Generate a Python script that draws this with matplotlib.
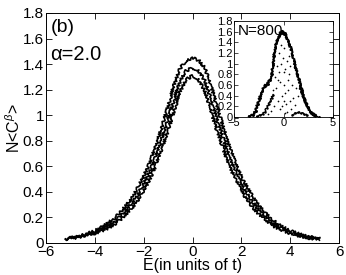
import numpy as np
import matplotlib
matplotlib.use("Agg")
import matplotlib.pyplot as plt
from matplotlib.ticker import FuncFormatter, MultipleLocator

plt.rcParams['font.family'] = ['Liberation Sans', 'DejaVu Sans']
plt.rcParams['mathtext.fontset'] = 'custom'
plt.rcParams['mathtext.rm'] = 'Liberation Sans'
plt.rcParams['mathtext.it'] = 'Liberation Sans:italic'

# ---- main curves (positive half; curves are symmetric in E) ----
E_half = [0.0, 0.25, 0.5, 0.75, 1.0, 1.25, 1.5, 1.75, 2.0, 2.25, 2.5, 2.75,
          3.0, 3.25, 3.5, 3.75, 4.0, 4.25, 4.5, 4.75, 5.0, 5.2]
top_half = [1.45, 1.43, 1.37, 1.24, 1.07, 0.91, 0.76, 0.63, 0.52, 0.43, 0.35, 0.285,
            0.23, 0.185, 0.15, 0.12, 0.095, 0.078, 0.062, 0.05, 0.04, 0.032]
mid_half = [1.37, 1.35, 1.27, 1.13, 0.97, 0.82, 0.68, 0.56, 0.46, 0.38, 0.31, 0.25,
            0.20, 0.16, 0.13, 0.105, 0.085, 0.07, 0.055, 0.045, 0.036, 0.03]
bot_half = [1.31, 1.28, 1.19, 1.04, 0.88, 0.74, 0.61, 0.50, 0.41, 0.335, 0.27, 0.22,
            0.175, 0.14, 0.113, 0.092, 0.075, 0.062, 0.05, 0.04, 0.033, 0.03]

# ---- inset (N=800) ----
env_E = [-3.5, -3.1, -2.8, -2.6, -2.4, -2.2, -1.9, -1.6, -1.35, -1.2, -1.05, -0.95, -0.83,
         -0.65, -0.45, -0.3, -0.15, 0.0, 0.15, 0.3, 0.45, 0.6, 0.75, 0.9, 1.05, 1.2,
         1.4, 1.55, 1.7, 1.85, 2.05, 2.25, 2.45, 2.75, 3.05, 3.55]
env_v = [0.01, 0.04, 0.12, 0.25, 0.36, 0.48, 0.58, 0.62, 0.70, 0.80, 0.98, 1.15, 1.32,
         1.45, 1.52, 1.58, 1.62, 1.55, 1.57, 1.50, 1.42, 1.36, 1.28, 1.17, 1.05, 0.93,
         0.80, 0.72, 0.60, 0.50, 0.36, 0.27, 0.19, 0.10, 0.04, 0.0]
inL_E = [-2.7, -2.4, -2.1, -1.9, -1.7, -1.5, -1.35, -1.2, -1.05]
inL_v = [0.01, 0.03, 0.06, 0.10, 0.17, 0.24, 0.30, 0.36, 0.42]
inR_E = [1.65, 1.8, 1.95, 2.1, 2.3, 2.5, 2.7, 2.9, 3.2]
inR_v = [0.55, 0.47, 0.40, 0.32, 0.24, 0.17, 0.10, 0.05, 0.02]
inB_E = [0.9, 1.2, 1.5, 1.8, 2.1, 2.4]
inB_v = [0.04, 0.07, 0.09, 0.08, 0.05, 0.03]
dots_E = [-0.5, -0.3, 0.0, 0.2, -0.6, 0.5, -0.2, 0.3, -1.0, 0.8, -0.4, 0.6, -0.8, 1.0,
          0.1, -0.1, 0.4, -0.7, 0.7, -1.3, 1.2, -0.9, 0.2, -0.35, 0.55, 0.05, -0.55,
          0.35, -1.6, 1.5, -0.15, 0.9, -1.1, 0.15, -0.45, 0.65, 1.3, -0.25, 0.45, 0.0]
dots_v = [1.20, 1.00, 1.30, 0.90, 0.70, 0.50, 0.40, 0.25, 0.20, 0.15, 0.15, 0.80, 0.55,
          0.35, 0.60, 1.10, 1.05, 0.95, 0.30, 0.12, 0.22, 0.75, 0.45, 0.65, 1.15, 0.85,
          0.30, 0.10, 0.05, 0.40, 0.20, 0.60, 0.50, 0.08, 0.85, 0.95, 0.55, 1.35, 0.70, 0.30]

fig = plt.figure(figsize=(3.46, 2.75), dpi=100)
ax = fig.add_axes([46/346, 32/275, 293/346, 230/275])

E_full = np.concatenate([-np.array(E_half[::-1]), np.array(E_half[1:])])
for half in (top_half, mid_half, bot_half):
    v_full = np.concatenate([np.array(half[::-1]), np.array(half[1:])])
    ln, = ax.plot(E_full, v_full, color='black', lw=1.2)
    ln.set_sketch_params(scale=1.4, length=1.8, randomness=3.0)

ax.set_xlim(-6, 6)
ax.set_ylim(0, 1.8)
ax.xaxis.set_major_locator(MultipleLocator(2))
ax.yaxis.set_major_locator(MultipleLocator(0.2))
fmt = FuncFormatter(lambda v, p: ('%g' % round(v, 3)).replace('-', '\u2212'))
ax.xaxis.set_major_formatter(fmt)
ax.yaxis.set_major_formatter(fmt)
ax.tick_params(direction='in', length=4, width=0.6, top=True, right=True,
               labelsize=11, pad=1.5)
for s in ax.spines.values():
    s.set_linewidth(0.7)
ax.set_xlabel('E(in units of t)', fontsize=11.5, labelpad=-1)
ax.set_ylabel('N<C$^{\\beta}$>', fontsize=11.5, labelpad=0)
ax.text(0.015, 0.975, '(b)', transform=ax.transAxes, fontsize=14, va='top', ha='left')
ax.text(0.015, 0.86, '\u03b1=2.0', transform=ax.transAxes, fontsize=14.5, va='top', ha='left')

# inset
ins = fig.add_axes([234/346, (275-117)/275, 99/346, 96/275])
ins.plot(env_E, env_v, color='black', lw=1.4, marker='.', ms=2.2)
ins.lines[-1].set_sketch_params(scale=1.0, length=1.5, randomness=3.0)
for xe, ve in [(inL_E, inL_v), (inR_E, inR_v), (inB_E, inB_v)]:
    l2, = ins.plot(xe, ve, color='black', lw=1.0, marker='.', ms=1.5)
    l2.set_sketch_params(scale=0.8, length=1.5, randomness=3.0)
ins.scatter(dots_E, dots_v, s=1.5, color='black', linewidths=0)
ins.set_xlim(-5, 5)
ins.set_ylim(0, 1.8)
ins.set_xticks([-5, 0, 5])
ins.yaxis.set_major_locator(MultipleLocator(0.2))
ins.xaxis.set_major_formatter(fmt)
ins.yaxis.set_major_formatter(fmt)
ins.tick_params(direction='in', length=3, width=0.5, top=True, right=True,
                labelsize=8, pad=1)
for s in ins.spines.values():
    s.set_linewidth(0.6)
ins.text(0.04, 0.97, 'N=800', transform=ins.transAxes, fontsize=11, va='top', ha='left')

fig.savefig('out.png', dpi=100)
